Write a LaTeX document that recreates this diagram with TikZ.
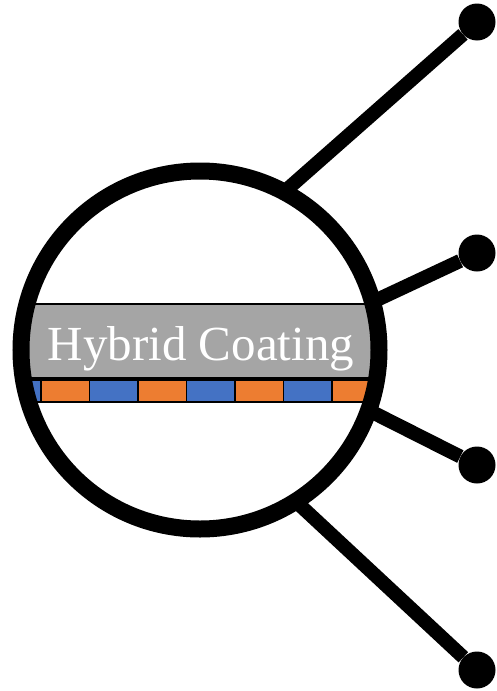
\documentclass[tikz,border=0pt]{standalone}
\usepackage{fontspec}
\setmainfont{Liberation Serif}
\definecolor{coatgrey}{HTML}{A5A5A5}
\definecolor{cellblue}{HTML}{4472C4}
\definecolor{cellorange}{HTML}{ED7D31}

\begin{document}
\begin{tikzpicture}[x=1pt, y=-1pt,
    lens/.style={circle, draw, line width=17pt, minimum size=358pt, inner sep=0pt},
    knob/.style={circle, fill=black, minimum size=37pt, inner sep=0pt},
    stalk/.style={line width=14pt, shorten <=-9pt},
    coating/.style={fill=coatgrey, draw=black, line width=1.5pt},
    cell/.style={draw=black, line width=1.8pt}
  ]
  \useasboundingbox (0,0) rectangle (497,691);
  \begin{scope}
    \clip (200,350) circle[radius=179pt];
    \draw[coating] (20,304) rectangle (380,378);
    \foreach \i/\tint in {0/cellblue,1/cellorange,2/cellblue,3/cellorange,4/cellblue,5/cellorange,6/cellblue,7/cellorange,8/cellblue}
      \draw[cell, fill=\tint] ({-7.5+48.5*\i},380) rectangle ++(48.5,22);
  \end{scope}
  \node[text=white, anchor=base, font=\fontsize{49}{55}\selectfont] (label) at (201,360) {Hybrid Coating};

  \node[lens] (lens) at (200,350) {};
  \node[knob] (k1) at (477,22) {};
  \node[knob] (k2) at (477,253) {};
  \node[knob] (k3) at (477,465) {};
  \node[knob] (k4) at (477,670) {};

  \draw[stalk] (lens.61) -- (k1);
  \draw[stalk] (lens.16) -- (k2);
  \draw[stalk] (lens.-20) -- (k3);
  \draw[stalk] (lens.-57) -- (k4);
\end{tikzpicture}
\end{document}
